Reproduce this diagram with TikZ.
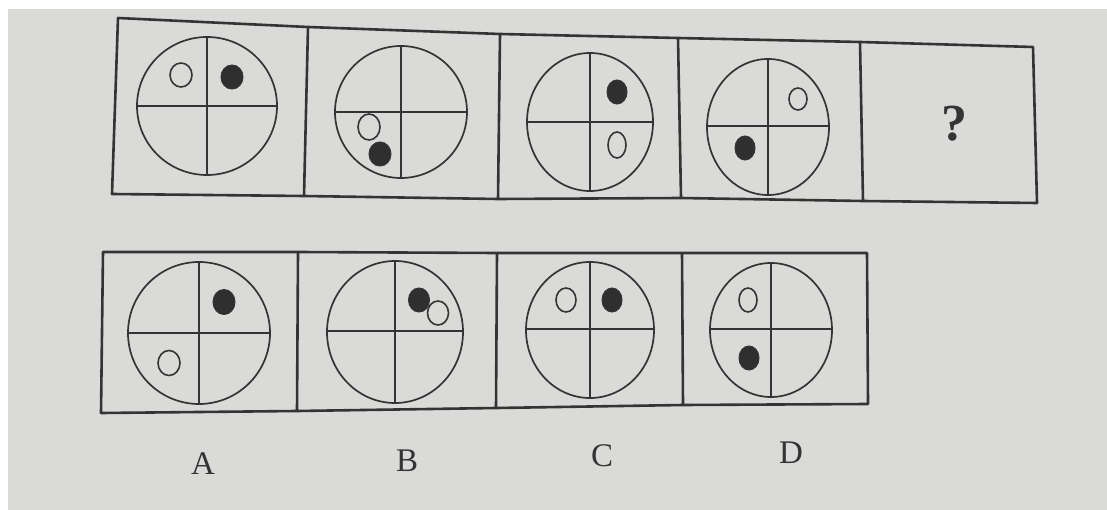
\documentclass[tikz,border=0pt]{standalone}
\usepackage{fontspec}
\setmainfont{Liberation Serif}
\definecolor{paper}{RGB}{218,218,216}
\definecolor{ink}{RGB}{52,52,52}
\begin{document}
\begin{tikzpicture}[
    x=1pt, y=-1pt,
    frame/.style={
        draw=ink,
        line width=2.6pt,
        line join=round
    },
    wheel/.style={
        draw=ink,
        line width=1.7pt
    },
    hole/.style={
        draw=ink,
        line width=1.6pt
    },
    dot/.style={
        draw=ink,
        fill=ink!90!black,
        line width=1pt
    },
    letter/.style={
        text=ink,
        inner sep=0pt,
        font=\fontsize{33}{33}\selectfont
    }
]

\useasboundingbox (0,0) rectangle (1107,510);

% Paper
\fill[white] (0,0) rectangle (1107,510);
\fill[paper] (8,9) rectangle (1107,510);

% Top row
\draw[frame] (118,18) -- (308,27) -- (500,34) -- (678,38) -- (860,42)
    -- (1033,47) -- (1037,203) -- (863,201) -- (681,198) -- (498,199)
    -- (304,196) -- (112,194) -- cycle;
\draw[frame] (308,27) -- (304,196);
\draw[frame] (500,34) -- (498,199);
\draw[frame] (678,38) -- (681,198);
\draw[frame] (860,42) -- (863,201);

% Top wheels
\draw[wheel] (207,106) ellipse [x radius=70pt, y radius=69pt];
\draw[wheel] (207,37) -- (207,175);
\draw[wheel] (137,106) -- (277,106);
\draw[hole] (181,75) ellipse [x radius=11pt, y radius=12pt];
\draw[dot] (232,77) ellipse [x radius=11pt, y radius=12pt];

\draw[wheel] (401,112) ellipse [x radius=66pt, y radius=66pt];
\draw[wheel] (401,46) -- (401,178);
\draw[wheel] (335,112) -- (467,112);
\draw[hole] (369,127) ellipse [x radius=11pt, y radius=13pt];
\draw[dot] (380,154) ellipse [x radius=11pt, y radius=12pt];

\draw[wheel] (590,122) ellipse [x radius=63pt, y radius=69pt];
\draw[wheel] (590,53) -- (590,191);
\draw[wheel] (527,122) -- (653,122);
\draw[dot] (617,92) ellipse [x radius=10pt, y radius=12pt];
\draw[hole] (617,145) ellipse [x radius=9pt, y radius=13pt];

\draw[wheel] (768,127) ellipse [x radius=61pt, y radius=68pt];
\draw[wheel] (768,59) -- (768,195);
\draw[wheel] (707,126) -- (829,126);
\draw[hole] (798,99) ellipse [x radius=9pt, y radius=11pt];
\draw[dot] (745,148) ellipse [x radius=10pt, y radius=12pt];

\node[text=ink, inner sep=0pt, font=\fontsize{52}{52}\selectfont\bfseries] (qmark) at (954,124) {?};

% Bottom row
\draw[frame] (103,252) -- (298,252) -- (497,253) -- (682,253) -- (867,253)
    -- (868,404) -- (683,405) -- (496,408) -- (297,411) -- (101,413) -- cycle;
\draw[frame] (298,252) -- (297,411);
\draw[frame] (497,253) -- (496,408);
\draw[frame] (682,253) -- (683,405);

% Option wheels
\draw[wheel] (199,333) ellipse [x radius=71pt, y radius=71pt];
\draw[wheel] (199,262) -- (199,404);
\draw[wheel] (128,333) -- (270,333);
\draw[dot] (224,302) ellipse [x radius=11pt, y radius=12.5pt];
\draw[hole] (169,363) ellipse [x radius=11pt, y radius=12.5pt];

\draw[wheel] (395,332) ellipse [x radius=68pt, y radius=71pt];
\draw[wheel] (395,261) -- (395,403);
\draw[wheel] (327,331) -- (463,331);
\draw[dot] (419,300) ellipse [x radius=10.5pt, y radius=12pt];
\draw[hole] (438,313) ellipse [x radius=10.5pt, y radius=12pt];

\draw[wheel] (590,330) ellipse [x radius=64pt, y radius=68pt];
\draw[wheel] (590,262) -- (590,398);
\draw[wheel] (526,329) -- (654,329);
\draw[hole] (566,300) ellipse [x radius=10pt, y radius=12pt];
\draw[dot] (612,300) ellipse [x radius=10pt, y radius=12pt];

\draw[wheel] (771,330) ellipse [x radius=61pt, y radius=67pt];
\draw[wheel] (771,263) -- (771,397);
\draw[wheel] (710,329) -- (832,329);
\draw[hole] (748,300) ellipse [x radius=9pt, y radius=12pt];
\draw[dot] (749,358) ellipse [x radius=10pt, y radius=12pt];

% Labels
\node[letter] (optA) at (203,464) {A};
\node[letter] (optB) at (407,461) {B};
\node[letter] (optC) at (602,456) {C};
\node[letter] (optD) at (791,453) {D};

\end{tikzpicture}
\end{document}
